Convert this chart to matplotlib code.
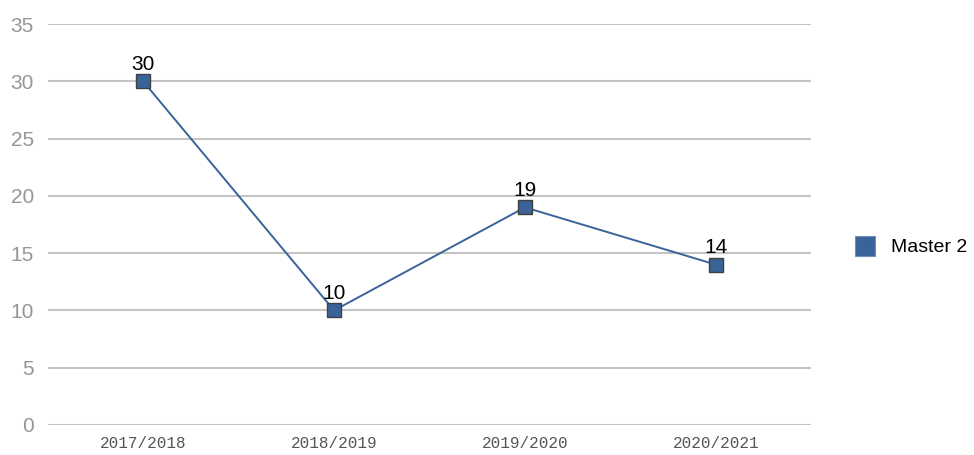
import matplotlib
matplotlib.use("Agg")
import matplotlib.pyplot as plt

# data
seasons = ["2017/2018", "2018/2019", "2019/2020", "2020/2021"]
master2 = [30, 10, 19, 14]
yticks = [0, 5, 10, 15, 20, 25, 30, 35]

blue = "#3a6399"

fig = plt.figure(figsize=(9.74, 4.55), dpi=100)
ax = fig.add_axes([0.049, 0.066, 0.784, 0.881])

x = list(range(len(seasons)))
ax.plot(x, master2, color=blue, lw=1.4, marker="s", markersize=9.5,
        markerfacecolor=blue, markeredgecolor="#404040", markeredgewidth=1,
        label="Master 2", zorder=3)

for xi, v in zip(x, master2):
    ax.annotate(str(v), (xi, v), xytext=(0, 5.5), textcoords="offset points",
                ha="center", va="bottom", fontsize=15, color="black",
                family="Liberation Sans")

ax.set_xlim(-0.5, len(seasons) - 0.5)
ax.set_ylim(0, 35)
ax.set_yticks(yticks)
ax.set_xticks(x)
ax.set_xticklabels(seasons, family="Liberation Mono", fontsize=11.5, color="#555555")
for lbl in ax.get_yticklabels():
    lbl.set_fontsize(15)
    lbl.set_color("#969696")
    lbl.set_family("Liberation Sans")

ax.grid(axis="y", color="#c4c4c4", lw=1.5)
ax.set_axisbelow(True)
for s in ax.spines.values():
    s.set_visible(False)
ax.tick_params(axis="both", length=0)
ax.tick_params(axis="y", pad=10)
ax.tick_params(axis="x", pad=8)

leg = fig.legend(handles=[plt.Line2D([], [], ls="none", marker="s", markersize=14.5,
                                     markerfacecolor=blue, markeredgecolor="#6f8fb8",
                                     markeredgewidth=0.8)],
                 labels=["Master 2"], loc="center left",
                 bbox_to_anchor=(0.866, 0.456), frameon=False,
                 prop={"family": "Liberation Sans", "size": 14},
                 handletextpad=0.75, handlelength=1.2, borderpad=0)

fig.savefig("out.png", dpi=100)
